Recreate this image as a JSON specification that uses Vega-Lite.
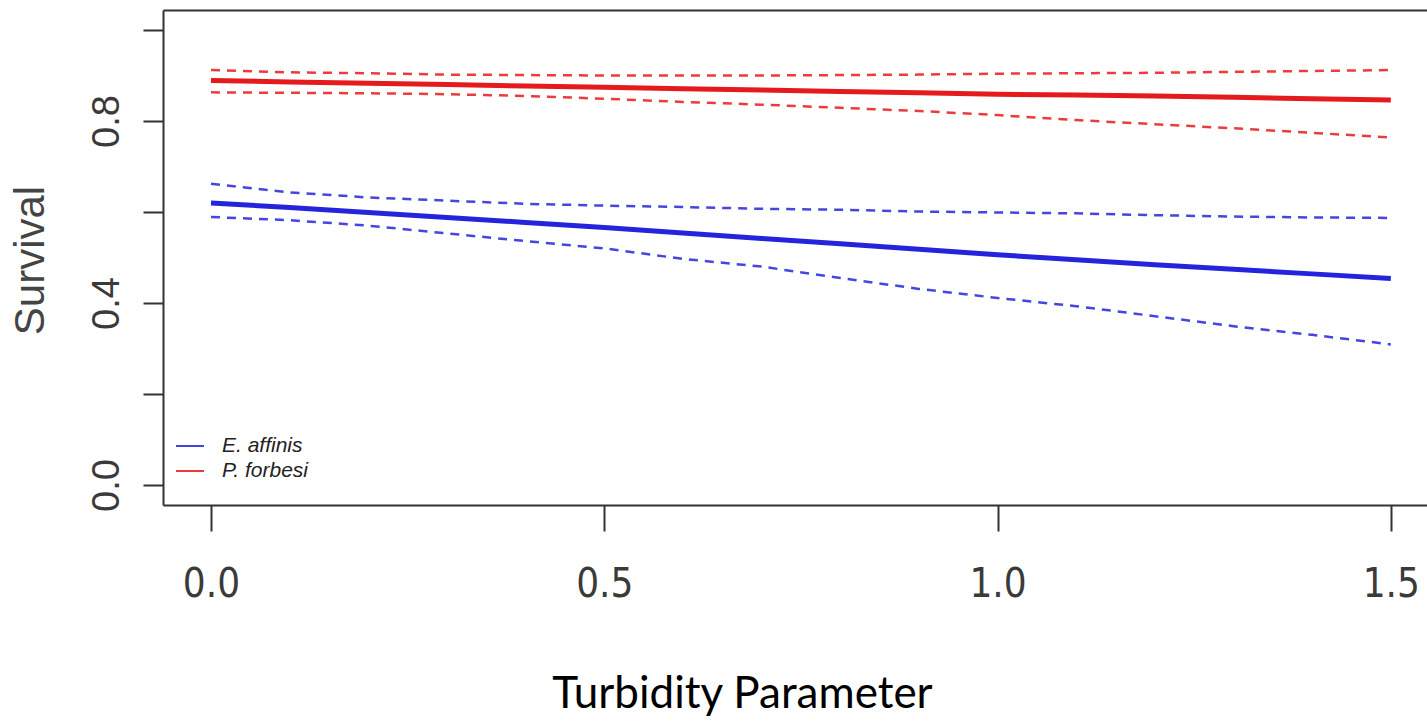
{
  "$schema": "https://vega.github.io/schema/vega-lite/v6.json",
  "width": 1264,
  "height": 495,
  "autosize": {"type": "none"},
  "padding": {"left": 163, "top": 10, "right": 0, "bottom": 217},
  "background": "white",
  "config": {
    "view": {"stroke": null},
    "font": "Liberation Sans"
  },
  "data": {
    "values": [
      {"x": 0.0, "species": "E. affinis", "fit": 0.620, "lower": 0.589, "upper": 0.662},
      {"x": 0.1, "species": "E. affinis", "fit": 0.610, "lower": 0.582, "upper": 0.643},
      {"x": 0.2, "species": "E. affinis", "fit": 0.599, "lower": 0.570, "upper": 0.632},
      {"x": 0.3, "species": "E. affinis", "fit": 0.588, "lower": 0.553, "upper": 0.625},
      {"x": 0.4, "species": "E. affinis", "fit": 0.577, "lower": 0.536, "upper": 0.618},
      {"x": 0.5, "species": "E. affinis", "fit": 0.566, "lower": 0.520, "upper": 0.614},
      {"x": 0.6, "species": "E. affinis", "fit": 0.554, "lower": 0.497, "upper": 0.611},
      {"x": 0.7, "species": "E. affinis", "fit": 0.542, "lower": 0.480, "upper": 0.607},
      {"x": 0.8, "species": "E. affinis", "fit": 0.530, "lower": 0.455, "upper": 0.605},
      {"x": 0.9, "species": "E. affinis", "fit": 0.518, "lower": 0.431, "upper": 0.601},
      {"x": 1.0, "species": "E. affinis", "fit": 0.506, "lower": 0.411, "upper": 0.599},
      {"x": 1.1, "species": "E. affinis", "fit": 0.495, "lower": 0.393, "upper": 0.597},
      {"x": 1.2, "species": "E. affinis", "fit": 0.484, "lower": 0.371, "upper": 0.593},
      {"x": 1.3, "species": "E. affinis", "fit": 0.474, "lower": 0.349, "upper": 0.590},
      {"x": 1.4, "species": "E. affinis", "fit": 0.464, "lower": 0.330, "upper": 0.588},
      {"x": 1.5, "species": "E. affinis", "fit": 0.454, "lower": 0.309, "upper": 0.587},
      {"x": 0.0, "species": "P. forbesi", "fit": 0.889, "lower": 0.863, "upper": 0.912},
      {"x": 0.1, "species": "P. forbesi", "fit": 0.886, "lower": 0.862, "upper": 0.907},
      {"x": 0.2, "species": "P. forbesi", "fit": 0.883, "lower": 0.861, "upper": 0.905},
      {"x": 0.3, "species": "P. forbesi", "fit": 0.880, "lower": 0.859, "upper": 0.902},
      {"x": 0.4, "species": "P. forbesi", "fit": 0.877, "lower": 0.855, "upper": 0.901},
      {"x": 0.5, "species": "P. forbesi", "fit": 0.874, "lower": 0.849, "upper": 0.900},
      {"x": 0.6, "species": "P. forbesi", "fit": 0.871, "lower": 0.842, "upper": 0.900},
      {"x": 0.7, "species": "P. forbesi", "fit": 0.868, "lower": 0.836, "upper": 0.900},
      {"x": 0.8, "species": "P. forbesi", "fit": 0.865, "lower": 0.829, "upper": 0.901},
      {"x": 0.9, "species": "P. forbesi", "fit": 0.862, "lower": 0.822, "upper": 0.902},
      {"x": 1.0, "species": "P. forbesi", "fit": 0.859, "lower": 0.813, "upper": 0.904},
      {"x": 1.1, "species": "P. forbesi", "fit": 0.857, "lower": 0.802, "upper": 0.905},
      {"x": 1.2, "species": "P. forbesi", "fit": 0.855, "lower": 0.793, "upper": 0.906},
      {"x": 1.3, "species": "P. forbesi", "fit": 0.852, "lower": 0.784, "upper": 0.908},
      {"x": 1.4, "species": "P. forbesi", "fit": 0.849, "lower": 0.774, "upper": 0.910},
      {"x": 1.5, "species": "P. forbesi", "fit": 0.846, "lower": 0.764, "upper": 0.912}
    ]
  },
  "resolve": {"axis": {"x": "independent"}},
  "layer": [
    {
      "transform": [{"fold": ["lower", "upper"], "as": ["bound", "value"]}],
      "mark": {"type": "line", "strokeWidth": 2.5, "strokeDash": [9, 7], "opacity": 0.85},
      "encoding": {
        "x": {
          "field": "x", "type": "quantitative",
          "scale": {"domain": [-0.061, 1.546], "nice": false, "zero": false},
          "axis": {"orient": "top", "labels": false, "ticks": false, "grid": false, "title": null, "domain": true, "domainColor": "#333333", "domainWidth": 2}
        },
        "y": {
          "field": "value", "type": "quantitative",
          "scale": {"domain": [-0.044, 1.044], "nice": false, "zero": false},
          "axis": {
            "title": "Survival", "grid": false,
            "values": [0, 0.2, 0.4, 0.6, 0.8, 1.0],
            "labelExpr": "(abs(datum.value) < 0.001 || abs(datum.value - 0.4) < 0.001 || abs(datum.value - 0.8) < 0.001) ? format(datum.value, '.1f') : ''",
            "labelAngle": -90, "labelAlign": "center", "labelBaseline": "alphabetic",
            "labelFont": "Liberation Sans", "labelFontSize": 38, "labelColor": "#3a3a3a", "labelPadding": 25,
            "tickSize": 20, "tickColor": "#333333", "tickWidth": 2,
            "domain": true, "domainColor": "#333333", "domainWidth": 2,
            "titleFont": "Liberation Sans", "titleFontSize": 42, "titleFontWeight": "normal", "titleColor": "#444444",
            "titleAngle": -90, "titleAlign": "center", "titleBaseline": "alphabetic",
            "titleX": -120, "titleY": 250
          }
        },
        "color": {"field": "species", "type": "nominal", "scale": {"domain": ["E. affinis", "P. forbesi"], "range": ["#2424dc", "#e41a1c"]}},
        "detail": {"field": "bound"}
      }
    },
    {
      "mark": {"type": "line", "strokeWidth": 5},
      "encoding": {
        "x": {
          "field": "x", "type": "quantitative",
          "scale": {"domain": [-0.061, 1.546], "nice": false, "zero": false},
          "axis": {
            "orient": "bottom", "title": "Turbidity Parameter", "grid": false,
            "values": [0, 0.5, 1.0, 1.5], "format": ".1f",
            "labelFont": "DejaVu Sans Condensed, Liberation Sans", "labelFontSize": 40, "labelColor": "#3a3a3a",
            "labelPadding": 33, "tickSize": 26, "tickColor": "#333333", "tickWidth": 2,
            "domain": true, "domainColor": "#333333", "domainWidth": 2,
            "titleFont": "Lato", "titleFontSize": 44, "titleFontWeight": "normal", "titleColor": "#000000",
            "titleAnchor": "start", "titleAlign": "center", "titleBaseline": "alphabetic",
            "titleX": 579, "titleY": 202
          }
        },
        "y": {
          "field": "fit", "type": "quantitative",
          "scale": {"domain": [-0.044, 1.044], "nice": false, "zero": false},
          "axis": {
            "title": "Survival", "grid": false,
            "values": [0, 0.2, 0.4, 0.6, 0.8, 1.0],
            "labelExpr": "(abs(datum.value) < 0.001 || abs(datum.value - 0.4) < 0.001 || abs(datum.value - 0.8) < 0.001) ? format(datum.value, '.1f') : ''",
            "labelAngle": -90, "labelAlign": "center", "labelBaseline": "alphabetic",
            "labelFont": "Liberation Sans", "labelFontSize": 38, "labelColor": "#3a3a3a", "labelPadding": 25,
            "tickSize": 20, "tickColor": "#333333", "tickWidth": 2,
            "domain": true, "domainColor": "#333333", "domainWidth": 2,
            "titleFont": "Liberation Sans", "titleFontSize": 42, "titleFontWeight": "normal", "titleColor": "#444444",
            "titleAngle": -90, "titleAlign": "center", "titleBaseline": "alphabetic",
            "titleX": -120, "titleY": 250
          }
        },
        "color": {
          "field": "species", "type": "nominal",
          "scale": {"domain": ["E. affinis", "P. forbesi"], "range": ["#2424dc", "#e41a1c"]},
          "legend": {
            "title": null, "orient": "none", "legendX": 12, "legendY": 421,
            "symbolType": "stroke", "symbolSize": 784, "symbolStrokeWidth": 2,
            "labelFont": "Liberation Sans", "labelFontStyle": "italic", "labelFontSize": 21, "labelColor": "#222222",
            "labelOffset": 17, "padding": 0, "rowPadding": 0, "offset": 0
          }
        }
      }
    }
  ]
}
